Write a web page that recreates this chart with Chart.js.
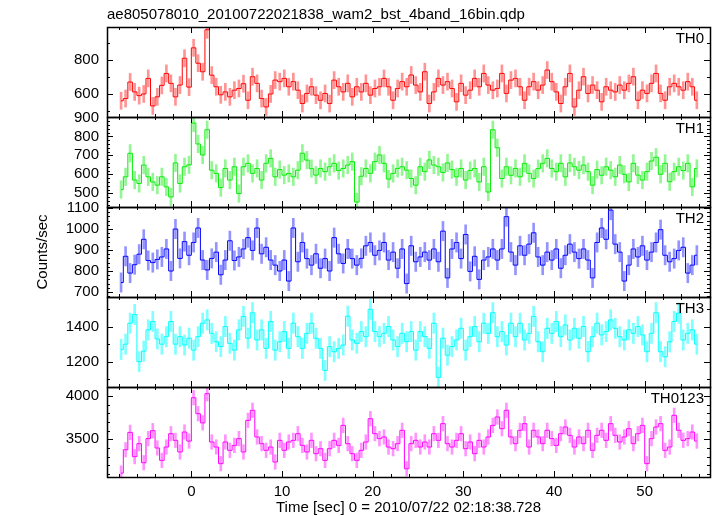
<!DOCTYPE html>
<html>
<head>
<meta charset="utf-8">
<script src="https://cdn.jsdelivr.net/npm/chart.js@4.4.1/dist/chart.umd.min.js"></script>
<style>
  html, body { margin: 0; padding: 0; background: #fff; }
  #wrap { width: 717px; height: 516px; }
</style>
</head>
<body>
<div id="wrap"><canvas id="lc" width="717" height="516"></canvas></div>
<script>
const plotTitle = 'ae805078010_20100722021838_wam2_bst_4band_16bin.qdp';
const xTitle = 'Time [sec] 0 = 2010/07/22 02:18:38.728';
const yTitle = 'Counts/sec';

// bin centres, 0.5 s bins
const binTimes = [
  -7.75, -7.25, -6.75, -6.25, -5.75, -5.25, -4.75, -4.25, -3.75, -3.25, -2.75, -2.25, -1.75, -1.25, -0.75, -0.25,
  0.25, 0.75, 1.25, 1.75, 2.25, 2.75, 3.25, 3.75, 4.25, 4.75, 5.25, 5.75, 6.25, 6.75, 7.25, 7.75,
  8.25, 8.75, 9.25, 9.75, 10.25, 10.75, 11.25, 11.75, 12.25, 12.75, 13.25, 13.75, 14.25, 14.75, 15.25, 15.75,
  16.25, 16.75, 17.25, 17.75, 18.25, 18.75, 19.25, 19.75, 20.25, 20.75, 21.25, 21.75, 22.25, 22.75, 23.25, 23.75,
  24.25, 24.75, 25.25, 25.75, 26.25, 26.75, 27.25, 27.75, 28.25, 28.75, 29.25, 29.75, 30.25, 30.75, 31.25, 31.75,
  32.25, 32.75, 33.25, 33.75, 34.25, 34.75, 35.25, 35.75, 36.25, 36.75, 37.25, 37.75, 38.25, 38.75, 39.25, 39.75,
  40.25, 40.75, 41.25, 41.75, 42.25, 42.75, 43.25, 43.75, 44.25, 44.75, 45.25, 45.75, 46.25, 46.75, 47.25, 47.75,
  48.25, 48.75, 49.25, 49.75, 50.25, 50.75, 51.25, 51.75, 52.25, 52.75, 53.25, 53.75, 54.25, 54.75, 55.25, 55.75
];

const th0 = [
  560, 573, 670, 612, 590, 600, 691, 530, 583, 650, 720, 662, 583, 652, 809, 640,
  870, 780, 730, 976, 710, 642, 595, 612, 583, 622, 632, 660, 563, 701, 662, 573,
  524, 600, 681, 672, 691, 642, 672, 622, 544, 603, 642, 593, 563, 603, 544, 681,
  642, 612, 662, 583, 642, 612, 662, 593, 632, 642, 691, 642, 563, 632, 672, 642,
  711, 652, 612, 730, 544, 612, 691, 652, 672, 632, 554, 662, 593, 622, 691, 642,
  720, 652, 622, 632, 720, 603, 681, 691, 642, 563, 642, 672, 622, 652, 740, 672,
  612, 544, 642, 720, 524, 622, 701, 603, 652, 622, 554, 642, 622, 612, 652, 622,
  662, 701, 563, 622, 603, 662, 720, 603, 563, 642, 662, 642, 622, 672, 642, 563
];
const th1 = [
  520, 587, 711, 570, 552, 649, 587, 560, 543, 587, 534, 481, 660, 552, 640, 650,
  870, 760, 702, 835, 622, 605, 530, 631, 570, 640, 499, 640, 658, 605, 631, 570,
  658, 684, 587, 625, 596, 605, 587, 622, 711, 675, 630, 596, 631, 614, 640, 658,
  620, 631, 649, 667, 454, 590, 631, 605, 667, 702, 658, 575, 605, 631, 640, 622,
  578, 543, 640, 614, 676, 649, 640, 610, 660, 625, 587, 631, 570, 620, 631, 560,
  640, 507, 835, 740, 578, 640, 595, 631, 587, 658, 605, 578, 630, 658, 684, 631,
  614, 658, 587, 660, 640, 622, 649, 614, 543, 625, 595, 640, 622, 587, 649, 600,
  560, 658, 596, 570, 614, 670, 690, 600, 658, 561, 614, 640, 620, 658, 534, 631
];
const th2 = [
  745, 870, 790, 830, 880, 951, 850, 840, 855, 867, 905, 800, 1000, 860, 940, 875,
  936, 1005, 852, 805, 860, 890, 782, 852, 944, 850, 867, 905, 959, 898, 1005, 882,
  913, 852, 828, 800, 852, 752, 1005, 844, 936, 859, 828, 882, 813, 859, 800, 959,
  882, 836, 905, 859, 828, 860, 920, 936, 875, 898, 936, 852, 890, 813, 905, 740,
  920, 844, 867, 890, 852, 905, 844, 990, 767, 905, 936, 859, 974, 798, 870, 760,
  852, 867, 905, 852, 905, 1059, 890, 828, 920, 875, 928, 982, 867, 828, 890, 852,
  905, 813, 875, 928, 890, 859, 905, 852, 767, 936, 1005, 951, 1090, 928, 890, 752,
  828, 905, 867, 920, 852, 890, 936, 997, 875, 844, 859, 898, 913, 790, 828, 875
];
const th3 = [
  1270, 1300, 1420, 1470, 1200, 1260, 1382, 1430, 1330, 1300, 1343, 1430, 1300, 1343, 1295, 1334,
  1266, 1343, 1420, 1439, 1362, 1314, 1286, 1401, 1305, 1266, 1382, 1459, 1334, 1480, 1324, 1382,
  1276, 1430, 1266, 1314, 1372, 1276, 1420, 1343, 1276, 1362, 1420, 1334, 1276, 1150, 1286, 1257,
  1276, 1295, 1460, 1324, 1305, 1372, 1343, 1500, 1372, 1343, 1362, 1401, 1324, 1286, 1362, 1314,
  1372, 1266, 1372, 1343, 1276, 1420, 1110, 1334, 1237, 1286, 1324, 1391, 1266, 1343, 1401, 1314,
  1420, 1362, 1480, 1343, 1372, 1295, 1420, 1343, 1420, 1324, 1362, 1459, 1314, 1257, 1391, 1362,
  1430, 1343, 1410, 1324, 1391, 1334, 1401, 1257, 1343, 1420, 1353, 1372, 1439, 1391, 1343, 1324,
  1382, 1362, 1401, 1353, 1257, 1362, 1480, 1257, 1228, 1314, 1430, 1478, 1324, 1362, 1382, 1300
];
const th0123 = [
  3110, 3380, 3580, 3300, 3450, 3230, 3508, 3600, 3400, 3257, 3411, 3565, 3488, 3354, 3584, 3480,
  3980, 3796, 3690, 4027, 3469, 3411, 3219, 3469, 3373, 3430, 3508, 3354, 3719, 3835, 3527, 3450,
  3373, 3411, 3238, 3488, 3373, 3469, 3488, 3565, 3430, 3354, 3488, 3334, 3392, 3257, 3392, 3488,
  3430, 3661, 3450, 3334, 3257, 3373, 3469, 3738, 3565, 3508, 3527, 3411, 3392, 3450, 3604, 3160,
  3450, 3488, 3411, 3469, 3411, 3565, 3488, 3681, 3450, 3411, 3488, 3565, 3392, 3469, 3334, 3488,
  3411, 3527, 3661, 3758, 3623, 3835, 3527, 3450, 3604, 3681, 3411, 3604, 3527, 3450, 3604, 3508,
  3430, 3565, 3642, 3546, 3411, 3527, 3450, 3604, 3373, 3546, 3604, 3488, 3681, 3546, 3469, 3527,
  3623, 3450, 3565, 3661, 3219, 3508, 3642, 3681, 3373, 3411, 3777, 3604, 3488, 3508, 3584, 3480
];

const bandNames = ['TH0', 'TH1', 'TH2', 'TH3', 'TH0123'];
const bandRates = [th0, th1, th2, th3, th0123];
const bandErrors = [50, 46, 46, 58, 84];   // typical 1-sigma half-length of the error bars
const bandColors = ['#ff0000', '#00ee00', '#0000ff', '#00ffff', '#ff00ff'];
const bandErrColors = ['rgba(255,0,0,0.42)', 'rgba(0,230,0,0.42)', 'rgba(0,0,255,0.42)', 'rgba(0,255,255,0.5)', 'rgba(255,0,255,0.42)'];

const yMins = [465, 428, 676, 1055, 3065];
const yMaxs = [992, 902, 1105, 1570, 4104];
const yLabelTicks = [[600, 800], [500, 600, 700, 800, 900], [700, 800, 900, 1000, 1100], [1200, 1400], [3500, 4000]];
const yMajorStep = [200, 100, 100, 200, 500];
const yMinorStep = [100, 20, 20, 100, 100];
const xLabelTicks = [0, 10, 20, 30, 40, 50];
const xMin = -9.3, xMax = 57.2;

const FONT = "'Liberation Sans', Arial, Helvetica, sans-serif";
const panelIds = bandNames.map((n, k) => 'y' + k);

const scales = {
    x: {
        type: 'linear',
        min: xMin,
        max: xMax,
        offset: false,
        grid: { display: false, drawTicks: false },
        border: { display: false },
        ticks: { color: '#000', font: { family: FONT, size: 15 }, padding: 6, autoSkip: false, maxRotation: 0 },
        afterBuildTicks: axis => { axis.ticks = xLabelTicks.map(v => ({ value: v })); },
        afterFit: axis => { axis.height = 39; }
    }
};
panelIds.forEach((id, k) => {
    scales[id] = {
        type: 'linear',
        position: 'left',
        stack: 'panels',
        stackWeight: 1,
        weight: 10 - k,
        min: yMins[k],
        max: yMaxs[k],
        offset: false,
        grid: { display: false, drawTicks: false },
        border: { display: false },
        ticks: {
            color: '#000',
            font: { family: FONT, size: 15 },
            padding: 8,
            autoSkip: false,
            callback: v => String(v)
        },
        afterBuildTicks: axis => { axis.ticks = yLabelTicks[k].map(v => ({ value: v })); },
        afterFit: axis => { axis.width = 107; }
    };
});

const datasets = [];
bandNames.forEach((name, k) => {
    datasets.push({
        type: 'line',
        label: name,
        yAxisID: panelIds[k],
        data: bandRates[k].map((v, i) => ({ x: binTimes[i], y: v })),
        borderColor: bandColors[k],
        borderWidth: 1,
        pointRadius: 0,
        stepped: 'middle',
        fill: false,
        order: 0
    });
    datasets.push({
        type: 'bar',
        label: name + ' err',
        yAxisID: panelIds[k],
        data: bandRates[k].map((v, i) => ({ x: binTimes[i], y: [v - bandErrors[k], v + bandErrors[k]] })),
        backgroundColor: bandErrColors[k],
        borderWidth: 0,
        barThickness: 2,
        grouped: false,
        order: 1
    });
});

// clip each panel's data to its own box, then draw frames, ticks and labels
const panelFrame = {
    id: 'panelFrame',
    beforeDatasetDraw(chart, args) {
        const s = chart.scales[args.meta.yAxisID];
        const a = chart.chartArea;
        chart.ctx.save();
        chart.ctx.beginPath();
        chart.ctx.rect(a.left, s.top, a.right - a.left, s.bottom - s.top);
        chart.ctx.clip();
    },
    afterDatasetDraw(chart) {
        chart.ctx.restore();
    },
    afterDraw(chart) {
        const ctx = chart.ctx;
        const a = chart.chartArea;
        const xs = chart.scales.x;
        ctx.save();
        ctx.strokeStyle = '#000';

        const seg = (x1, y1, x2, y2) => {
            ctx.beginPath();
            ctx.moveTo(x1, y1);
            ctx.lineTo(x2, y2);
            ctx.stroke();
        };

        panelIds.forEach((id, k) => {
            const s = chart.scales[id];
            const top = Math.round(s.top), bottom = Math.round(s.bottom);

            ctx.lineWidth = 1;
            for (let v = Math.ceil(s.min / yMinorStep[k]) * yMinorStep[k]; v <= s.max; v += yMinorStep[k]) {
                const py = Math.round(s.getPixelForValue(v)) + 0.5;
                const len = v % yMajorStep[k] === 0 ? 6 : 3;
                seg(a.left, py, a.left + len, py);
                seg(a.right - len, py, a.right, py);
            }
            for (let t = Math.ceil(xs.min / 2) * 2; t <= xs.max; t += 2) {
                const px = Math.round(xs.getPixelForValue(t)) + 0.5;
                const len = t % 10 === 0 ? 6 : 3;
                seg(px, top, px, top + len);
                seg(px, bottom - len, px, bottom);
            }

            ctx.lineWidth = 1.5;
            ctx.strokeRect(Math.round(a.left) + 0.5, top + 0.5, Math.round(a.right - a.left), bottom - top);

            ctx.fillStyle = '#000';
            ctx.font = '15px ' + FONT;
            ctx.textAlign = 'right';
            ctx.textBaseline = 'alphabetic';
            ctx.fillText(bandNames[k], a.right - 6, top + 16);
        });

        ctx.fillStyle = '#000';
        ctx.font = '15px ' + FONT;
        ctx.textAlign = 'left';
        ctx.fillText(plotTitle, a.left, 19);

        ctx.textAlign = 'center';
        ctx.fillText(xTitle, (a.left + a.right) / 2, 512);

        ctx.translate(47, (a.top + a.bottom) / 2);
        ctx.rotate(-Math.PI / 2);
        ctx.fillText(yTitle, 0, 0);
        ctx.restore();
    }
};

new Chart(document.getElementById('lc'), {
    data: { datasets: datasets },
    options: {
        responsive: false,
        animation: false,
        devicePixelRatio: 1,
        events: [],
        layout: { padding: { left: 0, right: 7, top: 27, bottom: 0 } },
        plugins: { legend: { display: false }, tooltip: { enabled: false }, title: { display: false } },
        scales: scales
    },
    plugins: [panelFrame]
});
</script>
</body>
</html>
